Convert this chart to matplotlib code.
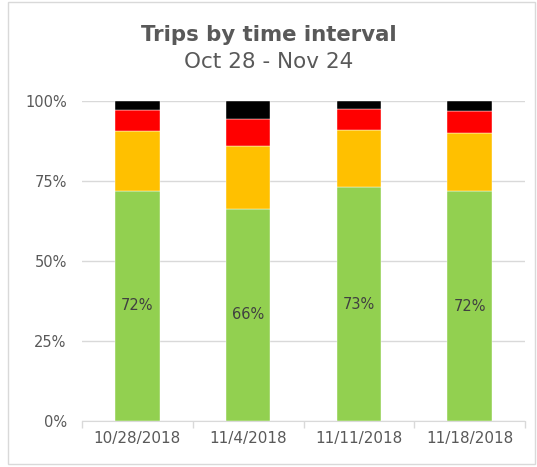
import matplotlib.pyplot as plt
import matplotlib.patches as patches
import numpy as np

plt.rcParams["font.family"] = ["DejaVu Sans"]

# share of trips per week, by time interval
weeks = ["10/28/2018", "11/4/2018", "11/11/2018", "11/18/2018"]
green = [72.0, 66.4, 73.1, 71.8]
orange = [18.7, 19.4, 17.9, 18.3]
red = [6.4, 8.6, 6.6, 6.7]
black = [2.9, 5.6, 2.4, 3.2]
green_labels = ["72%", "66%", "73%", "72%"]

series = [green, orange, red, black]
colors = ["#92D050", "#FFC000", "#FF0000", "#000000"]
text_grey = "#595959"

fig = plt.figure(figsize=(5.37, 4.67), dpi=100)
ax = fig.add_axes([0.1527, 0.0985, 0.825, 0.6852])

x = np.arange(len(weeks))
bottom = np.zeros(len(weeks))
for vals, c in zip(series, colors):
    ax.bar(x, vals, width=0.4, bottom=bottom, color=c, edgecolor="white",
           linewidth=0.3, zorder=3)
    bottom += np.array(vals)

# data labels in the green segment
for xi, v, lab in zip(x, green, green_labels):
    ax.text(xi, v / 2, lab, ha="center", va="center", fontsize=10.5, color="#404040", zorder=4)

ax.set_xlim(-0.5, len(weeks) - 0.5)
ax.set_ylim(0, 100)
ax.set_yticks([0, 25, 50, 75, 100])
ax.set_yticklabels(["0%", "25%", "50%", "75%", "100%"])
ax.set_xticks(x)
ax.set_xticklabels(weeks)
ax.tick_params(axis="y", length=0, colors=text_grey, labelsize=10.5, pad=11)
ax.tick_params(axis="x", length=0, colors=text_grey, labelsize=11, pad=7)

# boundary tick marks on the category axis
ax.set_xticks(np.arange(-0.5, len(weeks)), minor=True)
ax.tick_params(axis="x", which="minor", length=5, color="#d9d9d9", width=1)

ax.yaxis.grid(True, color="#d9d9d9", linewidth=1, zorder=0)
ax.set_axisbelow(True)
for s in ["top", "right", "left"]:
    ax.spines[s].set_visible(False)
ax.spines["bottom"].set_color("#d9d9d9")

fig.text(0.5, 0.926, "Trips by time interval", ha="center", va="center",
         fontsize=15.3, fontweight="bold", color=text_grey)
fig.text(0.5, 0.868, "Oct 28 - Nov 24", ha="center", va="center",
         fontsize=15.5, color=text_grey)

# light border around the chart area
fig.patches.append(patches.Rectangle((0.015, 0.006), 0.982, 0.99, transform=fig.transFigure,
                                     fill=False, edgecolor="#d9d9d9", linewidth=1))

plt.savefig("out.png", dpi=100)
